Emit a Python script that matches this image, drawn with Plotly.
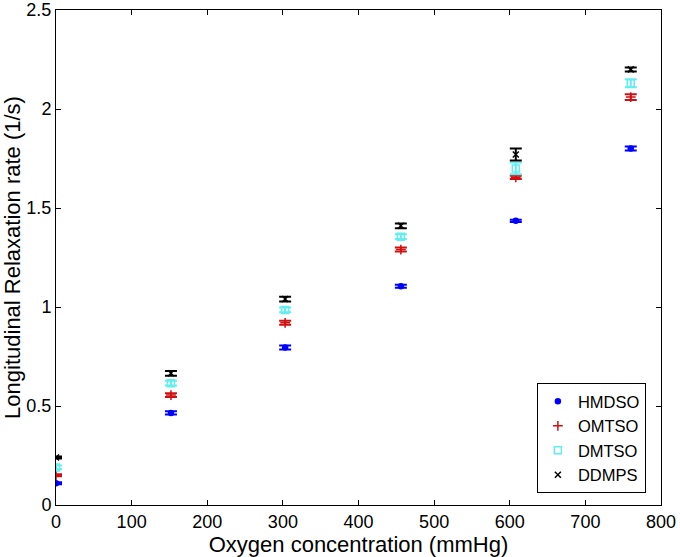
import plotly.graph_objects as go

# 氧浓度 (mmHg)
oxygen = [0, 152, 303, 456, 608, 760]

hmdso = [0.11, 0.465, 0.795, 1.105, 1.435, 1.80]
hmdso_err = [0.005, 0.008, 0.01, 0.008, 0.006, 0.01]

omtso = [0.15, 0.555, 0.92, 1.29, 1.655, 2.06]
omtso_err = [0.005, 0.01, 0.01, 0.01, 0.008, 0.015]

dmtso = [0.19, 0.615, 0.985, 1.355, 1.70, 2.13]
dmtso_err = [0.01, 0.012, 0.012, 0.012, 0.03, 0.02]

ddmps = [0.24, 0.665, 1.04, 1.41, 1.77, 2.20]
ddmps_err = [0.005, 0.012, 0.012, 0.012, 0.03, 0.01]

series = [
    ('HMDSO', hmdso, hmdso_err, '#0000ff', 'circle', 5),
    ('OMTSO', omtso, omtso_err, '#d01010', 'cross-thin-open', 7),
    ('DMTSO', dmtso, dmtso_err, '#60eeee', 'square-open', 7),
    ('DDMPS', ddmps, ddmps_err, '#000000', 'x-thin-open', 6),
]

fig = go.Figure()

for name, vals, errs, color, symbol, size in series:
    fig.add_trace(go.Scatter(
        x=oxygen,
        y=vals,
        name=name,
        mode='markers',
        marker=dict(color=color, symbol=symbol, size=size,
                    line=dict(color=color, width=1.5)),
        error_y=dict(type='data', array=errs, visible=True,
                     color=color, thickness=2, width=6),
    ))

axis_font = dict(family='Liberation Sans, Arial, sans-serif', size=18, color='black')

fig.update_layout(
    width=680,
    height=557,
    margin=dict(l=56, r=19, t=10, b=52),
    plot_bgcolor='white',
    paper_bgcolor='white',
    font=axis_font,
    showlegend=True,
    legend=dict(
        x=0.975, y=0.024, xanchor='right', yanchor='bottom',
        bordercolor='black', borderwidth=1, bgcolor='white',
        font=dict(size=16.5), itemsizing='trace',
        tracegroupgap=0,
    ),
    xaxis=dict(
        title=dict(text='Oxygen concentration (mmHg)', standoff=3),
        range=[0, 800], dtick=100, tick0=0,
        showline=True, linecolor='black', linewidth=1, mirror='ticks',
        ticks='inside', ticklen=5, tickcolor='black',
        showgrid=False, zeroline=False, automargin=False,
        ticklabeloverflow='allow',
    ),
    yaxis=dict(
        title=dict(text='Longitudinal Relaxation rate (1/s)', standoff=14),
        range=[0, 2.5], dtick=0.5, tick0=0,
        showline=True, linecolor='black', linewidth=1, mirror='ticks',
        ticks='inside', ticklen=5, tickcolor='black',
        showgrid=False, zeroline=False, automargin=False,
        ticklabeloverflow='allow',
    ),
)

# 去掉页面 body 的默认 8px 边距，隐藏工具栏
fig.write_html('out.html', config={'displayModeBar': False},
               post_script="document.body.style.margin='0';")
